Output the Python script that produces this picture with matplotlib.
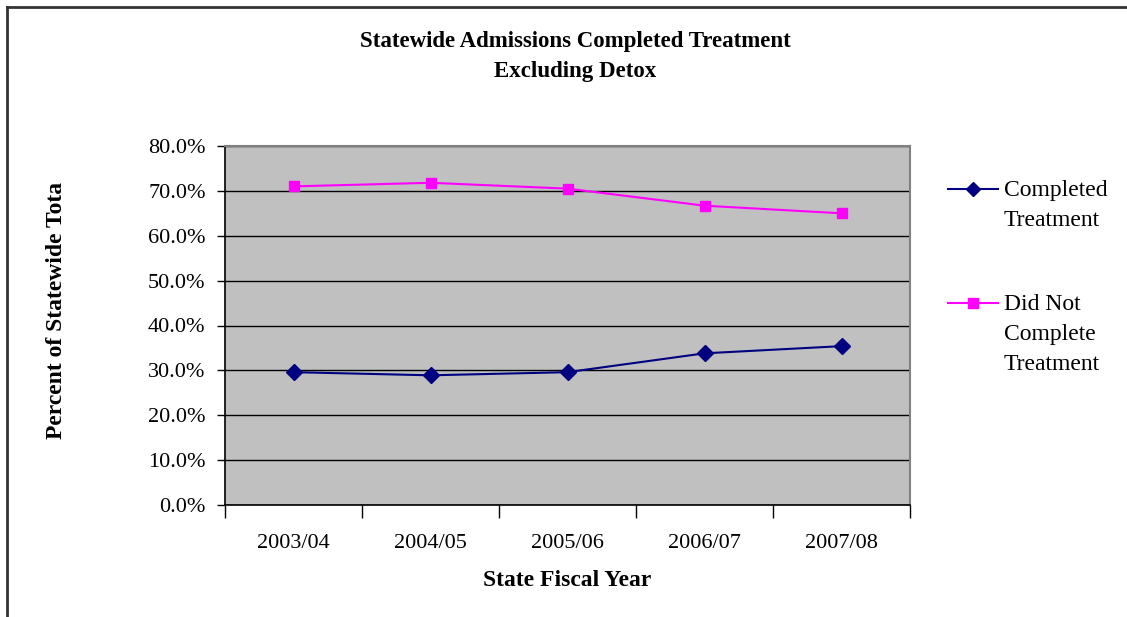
import matplotlib
matplotlib.use("Agg")
import matplotlib.pyplot as plt
from matplotlib.lines import Line2D
from matplotlib.ticker import FuncFormatter, FixedLocator

plt.rcParams['font.family'] = ['Liberation Serif', 'DejaVu Serif']

years = ["2003/04", "2004/05", "2005/06", "2006/07", "2007/08"]
completed = [29.6, 28.9, 29.6, 33.8, 35.4]
not_completed = [71.0, 71.8, 70.5, 66.7, 65.0]

W, H = 1127, 617
fig = plt.figure(figsize=(W / 100, H / 100), dpi=100)

# outer frame (top and left edges visible)
fig.add_artist(Line2D([7 / W, 7 / W], [0, 1 - 7 / H], color="#333333", lw=2))
fig.add_artist(Line2D([7 / W, 1], [1 - 7 / H, 1 - 7 / H], color="#333333", lw=2))

ax = fig.add_axes([225 / W, 1 - 505 / H, 685 / W, 359 / H])
ax.set_facecolor("#C0C0C0")

x = range(len(years))
ax.plot(x, completed, color="#000080", marker="D", markersize=8, lw=1.5,
        label="Completed\nTreatment")
ax.plot(x, not_completed, color="#FF00FF", marker="s", markersize=7.5, lw=1.5,
        label="Did Not\nComplete\nTreatment")

ax.set_xlim(-0.5, len(years) - 0.5)
ax.set_ylim(0, 80)
ax.set_yticks(range(0, 81, 10))
ax.yaxis.set_major_formatter(FuncFormatter(lambda v, p: f"{v:.1f}%"))
ax.grid(axis="y", color="black", lw=1)
ax.set_axisbelow(True)

# category labels centred, ticks on boundaries
ax.xaxis.set_major_locator(FixedLocator([i - 0.5 for i in range(len(years) + 1)]))
ax.xaxis.set_minor_locator(FixedLocator(list(x)))
ax.set_xticklabels([""] * (len(years) + 1))
ax.set_xticklabels(years, minor=True)
ax.tick_params(axis="x", which="major", length=9, width=1, color="black")
ax.tick_params(axis="x", which="minor", length=0, pad=21, labelsize=16)
ax.tick_params(axis="y", length=6, width=1, color="black", labelsize=16, pad=8)

for s in ["top", "right"]:
    ax.spines[s].set_color("#808080")
    ax.spines[s].set_linewidth(1.5)
for s in ["left", "bottom"]:
    ax.spines[s].set_color("black")
    ax.spines[s].set_linewidth(1.2)

fig.text(575 / W, 1 - 42 / H, "Statewide Admissions Completed Treatment",
         ha="center", va="center", fontsize=16.5, fontweight="bold")
fig.text(575 / W, 1 - 72 / H, "Excluding Detox",
         ha="center", va="center", fontsize=16.5, fontweight="bold")
fig.text(567 / W, 1 - 581 / H, "State Fiscal Year",
         ha="center", va="center", fontsize=17, fontweight="bold")
fig.text(57 / W, 1 - 310 / H, "Percent of Statewide Tota", rotation=90,
         ha="center", va="center", fontsize=17, fontweight="bold")

# legend drawn at right, handle beside first line of each label
for line, y0 in zip(ax.get_lines(), [189, 303]):
    yf = 1 - y0 / H
    fig.add_artist(Line2D([948 / W, 998 / W], [yf, yf], color=line.get_color(),
                          lw=1.5))
    fig.add_artist(Line2D([973 / W], [yf], color=line.get_color(),
                          marker=line.get_marker(), markersize=7.5, lw=0))
    fig.text(1004 / W, yf + 9 / H, line.get_label(), ha="left", va="top",
             fontsize=17, linespacing=1.55)

fig.savefig("out.png", dpi=100)
